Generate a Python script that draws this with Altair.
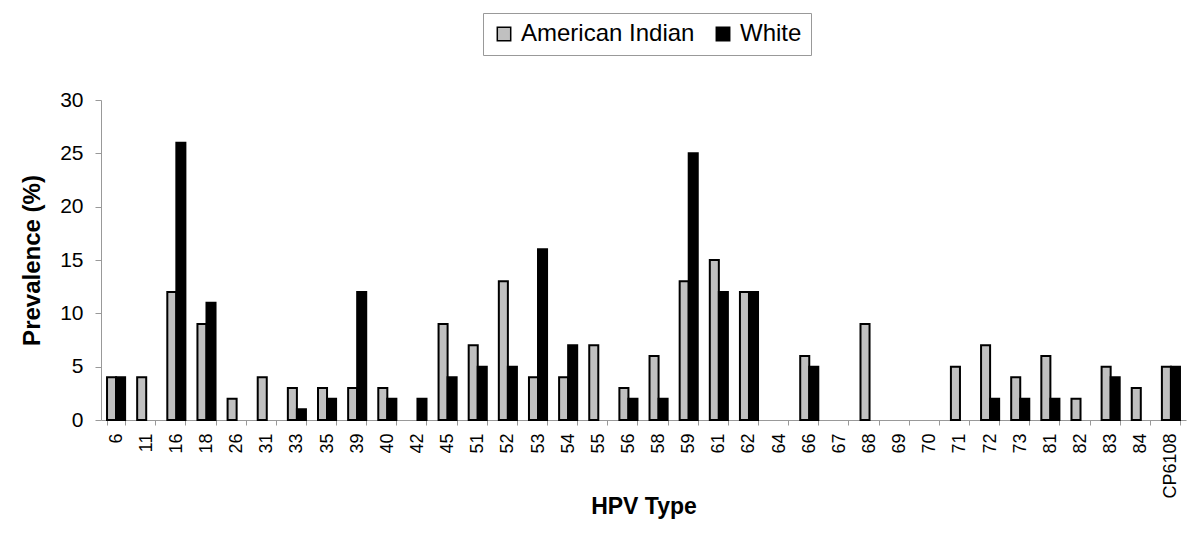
import altair as alt
import pandas as pd

types = ["6", "11", "16", "18", "26", "31", "33", "35", "39", "40", "42", "45",
         "51", "52", "53", "54", "55", "56", "58", "59", "61", "62", "64", "66",
         "67", "68", "69", "70", "71", "72", "73", "81", "82", "83", "84", "CP6108"]
american_indian = [4, 4, 12, 9, 2, 4, 3, 3, 3, 3, 0, 9,
                   7, 13, 4, 4, 7, 3, 6, 13, 15, 12, 0, 6,
                   0, 9, 0, 0, 5, 7, 4, 6, 2, 5, 3, 5]
white = [4, 0, 26, 11, 0, 0, 1, 2, 12, 2, 2, 4,
         5, 5, 16, 7, 0, 2, 2, 25, 12, 12, 0, 5,
         0, 0, 0, 0, 0, 2, 2, 2, 0, 4, 0, 5]
groups = ["American Indian", "White"]

rows = []
for t, a, w in zip(types, american_indian, white):
    rows.append({"type": t, "group": groups[0], "value": a})
    rows.append({"type": t, "group": groups[1], "value": w})
df = pd.DataFrame(rows)

font = "Liberation Sans"

chart = alt.Chart(df).mark_bar(stroke="black", strokeWidth=2).encode(
    x=alt.X("type:N", sort=types,
            scale=alt.Scale(domain=types, paddingInner=0.4, paddingOuter=0.2),
            axis=alt.Axis(title="HPV Type", labelAngle=270, labelFontSize=18,
                          labelFont=font, labelColor="black", labelPadding=8,
                          labelAlign="right", labelBaseline="middle",
                          titleFont=font, titleFontSize=23, titleFontWeight="bold",
                          titleColor="black", titleY=86, titleBaseline="middle",
                          domainColor="#999999", tickColor="#999999", tickBand="extent",
                          tickSize=5)),
    xOffset=alt.XOffset("group:N", sort=groups, scale=alt.Scale(domain=groups)),
    y=alt.Y("value:Q", scale=alt.Scale(domain=[0, 30]),
            axis=alt.Axis(title="Prevalence (%)", values=[0, 5, 10, 15, 20, 25, 30],
                          labelFontSize=21, labelFont=font, labelColor="black",
                          labelPadding=12,
                          titleFont=font, titleFontSize=24, titleFontWeight="bold",
                          titleColor="black", titleX=-69, titleBaseline="middle",
                          grid=False,
                          domainColor="#999999", tickColor="#999999", tickSize=6)),
    color=alt.Color("group:N", sort=groups,
                    scale=alt.Scale(domain=groups, range=["#C0C0C0", "#000000"]),
                    legend=alt.Legend(title=None, orient="none", direction="horizontal",
                                      legendX=382, legendY=-87,
                                      labelFontSize=24, labelFont=font, labelColor="black",
                                      labelLimit=0,
                                      symbolType="square", symbolSize=180,
                                      symbolStrokeColor="black", symbolStrokeWidth=1.5,
                                      strokeColor="#999999", padding=9,
                                      columnPadding=16, labelOffset=5)),
).transform_filter(
    alt.datum.value > 0
).properties(
    width=1085, height=320,
    padding={"left": 93, "top": 92, "right": 4, "bottom": 105},
    autosize=alt.AutoSizeParams(type="none"),
).configure_view(stroke=None)

chart.save("out.html", embed_options={"renderer": "svg", "actions": False})
